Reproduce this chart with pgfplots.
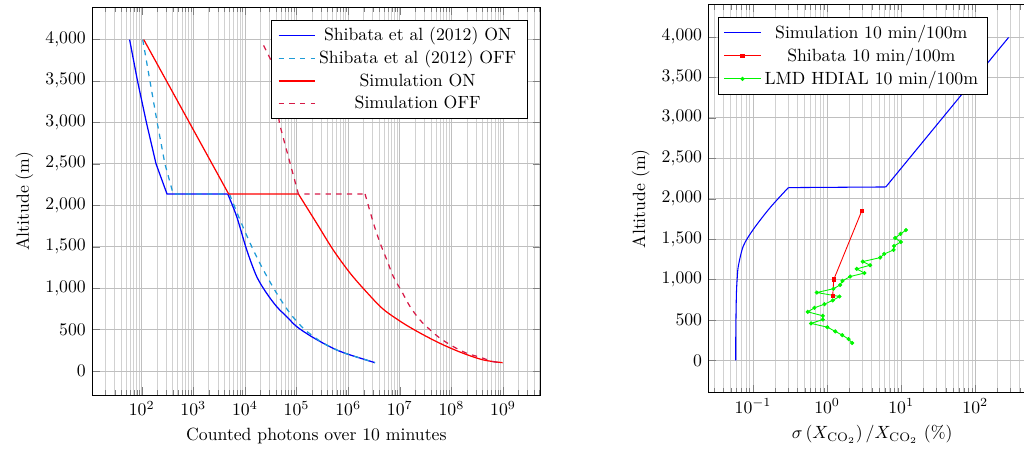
\documentclass[border=0pt]{standalone}
\usepackage{pgfplots}
\pgfplotsset{compat=1.18}
\definecolor{offblue}{RGB}{30,155,215}
\definecolor{offred}{RGB}{215,25,70}
\definecolor{lgreen}{RGB}{0,245,0}
\begin{document}
\begin{tikzpicture}
\pgfplotsset{
  every axis/.append style={
    scale only axis,
    grid=both,
    major grid style={line width=0.4pt,black!25},
    minor grid style={line width=0.4pt,black!18},
    legend cell align=center,
    ytick={0,500,...,4000},
    legend image code/.code={\draw[mark repeat=2,mark phase=2,##1] plot coordinates {(0cm,0cm) (0.36cm,0cm) (0.72cm,0cm)};},
  }
}
\begin{axis}[
  at={(51.98pt,32.77pt)}, anchor=south west,
  width=253.5pt, height=219.04pt,
  xmode=log, xmin=10.9, xmax=5.37e9, ymin=-290, ymax=4390,
  xlabel={Counted photons over 10 minutes}, ylabel={Altitude (m)},
  legend style={at={(0.97,0.967)}, anchor=north east, inner xsep=4pt},
]
% Shibata ON
\addplot[color=blue, line width=0.7pt] coordinates {(58.3,4000) (83.0,3500) (123.3,3000) (189.7,2500) (309,2137) (4645,2137)};
\addlegendentry{Shibata et al (2012) ON}
\addplot[color=blue, line width=0.7pt, smooth, forget plot] coordinates {(4645,2137) (6934,1863) (10839,1461) (16943,1138) (26424,937) (41305,776) (64565,655) (100925,535) (182810,426) (331131,334) (602560,253) (1.096e6,193) (3.31e6,100)};
% Shibata OFF
\addplot[color=offblue, line width=0.7pt, dashed] coordinates {(104.7,4000) (144.5,3500) (199.5,3000) (281.8,2500) (407.4,2137) (5012,2137)};
\addlegendentry{Shibata et al (2012) OFF}
\addplot[color=offblue, line width=0.7pt, dashed, smooth, forget plot] coordinates {(5012,2137) (8035,1823) (13552,1500) (22750,1219) (41305,937) (74817,696) (134900,515) (190000,440) (331131,334) (602560,253) (1.096e6,193) (3.31e6,100)};
% Simulation ON
\addplot[color=red, line width=0.7pt] coordinates {(109.6,4000) (4831,2137) (108400,2137)};
\addlegendentry{Simulation ON}
\addplot[color=red, line width=0.7pt, smooth, forget plot] coordinates {(108400,2137) (245500,1783) (512900,1461) (1.096e6,1179) (2.291e6,950) (4.786e6,745) (1.175e7,575) (2.884e7,435) (7.0e7,314) (1.698e8,213) (4.169e8,133) (9.8e8,100)};
% Simulation OFF
\addplot[color=offred, line width=0.7pt, dashed] coordinates {(2.3e4,3930) (3.2e4,3750) (4.68e4,2982) (1.084e5,2137) (2.124e6,2137)};
\addlegendentry{Simulation OFF}
\addplot[color=offred, line width=0.7pt, dashed, smooth, forget plot] coordinates {(2.124e6,2137) (3.09e6,1783) (4.17e6,1542) (5.62e6,1340) (7.52e6,1138) (1.096e7,957) (1.585e7,776) (2.455e7,616) (3.89e7,495) (6.03e7,395) (1.096e8,293) (1.995e8,213) (3.63e8,165) (6.46e8,112) (9.8e8,100)};
\end{axis}

\begin{axis}[
  at={(400.17pt,34.07pt)}, anchor=south west,
  width=185.14pt, height=219.21pt,
  xmode=log, xmin=0.0249, xmax=661, ymin=-400, ymax=4400,
  xlabel={$\sigma\left(X_{\mathrm{CO}_2}\right)/X_{\mathrm{CO}_2}$ (\%)}, ylabel={Altitude (m)},
  legend style={at={(0.03,0.967)}, anchor=north west},
]
\addplot[color=blue, line width=0.6pt, smooth] coordinates {(0.0584,0) (0.0585,300) (0.0590,600) (0.0598,850) (0.0612,1020) (0.0634,1168) (0.074,1415) (0.101,1621) (0.17,1889) (0.30,2137)};
\addlegendentry{Simulation 10 min/100m}
\addplot[color=blue, line width=0.6pt, forget plot] coordinates {(0.30,2137) (6.2,2145) (282,3995)};
\addplot[color=red, line width=0.5pt, mark=square*, mark size=0.9pt, mark options={fill=red}] coordinates {(1.19,800) (1.23,1000) (2.94,1850)};
\addlegendentry{Shibata 10 min/100m}
\addplot[color=lgreen, line width=0.5pt, mark=*, mark size=0.9pt, mark options={fill=lgreen}] coordinates {
(2.18,215) (1.95,263) (1.6,312) (1.29,358) (1.01,410) (0.608,457) (0.875,505) (0.875,551) (0.548,600) (0.675,650) (0.92,695) (1.19,742) (1.47,790) (0.726,839) (1.22,886) (1.50,933) (1.61,983) (2.05,1037) (3.19,1080) (2.51,1131) (3.81,1177) (3.03,1222) (5.2,1271) (5.9,1316) (7.9,1366) (8.0,1415) (9.9,1464) (8.3,1514) (9.8,1564) (11.6,1612)};
\addlegendentry{LMD HDIAL 10 min/100m}
\end{axis}
\pgfresetboundingbox
\useasboundingbox (0,0) rectangle (578.53pt,255.93pt);
\end{tikzpicture}
\end{document}
